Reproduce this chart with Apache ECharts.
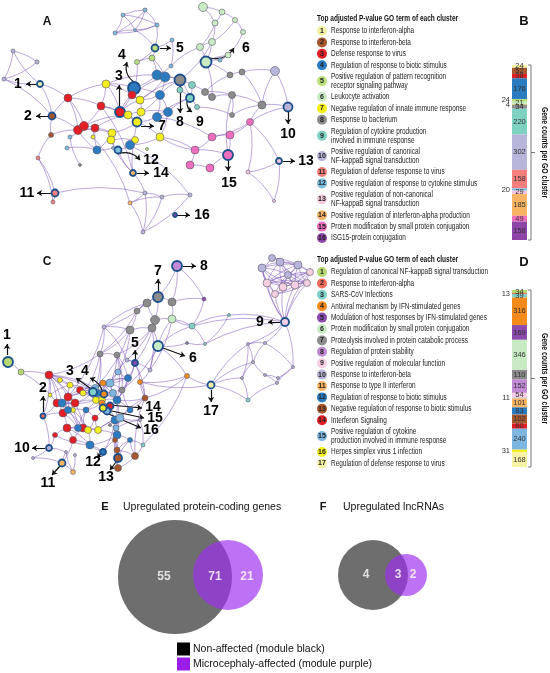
<!DOCTYPE html>
<html lang="en">
<head>
<meta charset="UTF-8">
<title>GO cluster networks</title>
<script src="https://cdn.jsdelivr.net/npm/echarts@6/dist/echarts.min.js"></script>
<style>
  html, body { margin: 0; padding: 0; background: #fff; }
  #main { width: 550px; height: 673px; }
</style>
</head>
<body>
<div id="main"></div>
<script>
// ---- data ----
var termsA = [
  'Response to interferon-alpha',
  'Response to interferon-beta',
  'Defense response to virus',
  'Regulation of response to biotic stimulus',
  'Positive regulation of pattern recognition\nreceptor signaling pathway',
  'Leukocyte activation',
  'Negative regulation of innate immune response',
  'Response to bacterium',
  'Regulation of cytokine production\ninvolved in immune response',
  'Positive regulation of canonical\nNF-kappaB signal transduction',
  'Regulation of defense response to virus',
  'Positive regulation of response to cytokine stimulus',
  'Positive regulation of non-canonical\nNF-kappaB signal transduction',
  'Positive regulation of interferon-alpha production',
  'Protein modification by small protein conjugation',
  'ISG15-protein conjugation'
];
var termsD = [
  'Regulation of canonical NF-kappaB signal transduction',
  'Response to interferon-alpha',
  'SARS-CoV Infections',
  'Antiviral mechanism by IFN-stimulated genes',
  'Modulation of host responses by IFN-stimulated genes',
  'Protein modification by small protein conjugation',
  'Proteolysis involved in protein catabolic process',
  'Regulation of protein stability',
  'Positive regulation of molecular function',
  'Response to interferon-beta',
  'Response to type II interferon',
  'Regulation of response to biotic stimulus',
  'Negative regulation of response to biotic stimulus',
  'Interferon Signaling',
  'Positive regulation of cytokine\nproduction involved in immune response',
  'Herpes simplex virus 1 infection',
  'Regulation of defense response to virus'
];
// gene counts per GO cluster (bars B and D)
var countsB = [24, 52, 38, 176, 24, 21, 4, 34, 220, 302, 158, 20, 29, 185, 49, 158];
var countsD = [34, 13, 39, 316, 169, 346, 110, 152, 54, 11, 101, 83, 102, 60, 240, 31, 168];
var outsideB = [5, 7, 12];      // clusters whose count sits left of the bar
var outsideD = [2, 10, 16];

// network A nodes: [x, y, cluster, size]
var nodesA = [
  [123,15,12,4],[145,10,12,4],[157,25,12,4],[115,33,12,4],[135,30,12,3],
  [155,48,5,6],[137,62,5,5],[152,58,5,6],[171,66,12,4],
  [203,7,6,9],[222,12,6,6],[235,20,6,5],[215,23,6,6],[243,32,6,5],[200,47,6,7],[212,42,6,7],
  [206,62,6,10],[228,55,6,6],[220,60,12,4],
  [157,75,4,10],[165,77,4,10],[134,88,4,11],[160,95,4,9],[168,112,4,9],[157,117,4,9],
  [180,80,8,10],[192,85,9,7],[190,98,9,7],[197,107,9,5],[212,97,8,7],[205,92,8,7],
  [230,75,8,6],[242,72,8,6],[232,95,8,7],[262,105,8,8],[232,115,8,5],[180,90,9,6],
  [275,71,10,9],[288,107,10,8],
  [68,98,3,8],[101,106,3,8],[120,112,3,9],[132,95,3,8],[78,130,3,9],[84,126,3,9],[95,128,3,8],
  [106,84,7,8],[140,100,7,8],[128,115,7,8],[141,112,7,8],[137,122,7,8],[112,133,7,8],
  [111,140,7,8],[160,137,7,8],[135,140,7,7],[93,137,7,4],
  [97,150,4,8],[130,145,4,9],[118,150,12,6],[147,149,5,3],
  [40,84,1,5],[13,51,10,4],[37,62,10,4],[4,79,10,4],
  [52,116,2,6],[51,135,2,5],[70,137,12,4],[67,148,12,4],[80,165,8,3],
  [38,158,11,4],[55,193,11,6],[53,202,11,4],
  [133,173,14,5],[145,193,10,4],[130,203,14,4],[162,197,10,4],[190,195,10,4],[143,232,10,4],
  [175,215,16,3],
  [250,122,15,7],[212,137,15,8],[230,135,15,8],[195,150,15,8],[228,155,15,9],[190,165,15,8],[210,168,15,8],
  [279,161,13,5],[248,172,13,4],[274,201,13,3],
  [172,40,12,4],[113,148,12,3]
];
var edgesA = '0-1 0-2 0-3 1-2 1-3 2-3 0-4 1-4 2-4 3-4 2-5 4-5 5-6 5-7 6-7 7-19 7-20 6-21 8-19 8-14 89-5 89-8 ' +
  '9-10 9-12 10-11 10-12 11-13 12-14 12-15 14-15 15-16 14-16 16-17 16-18 17-18 13-17 11-15 16-29 16-31 15-25 ' +
  '19-20 19-21 20-22 21-22 22-23 22-24 23-24 19-25 20-25 22-25 23-27 24-27 22-47 21-42 21-41 20-47 24-50 23-53 22-49 ' +
  '25-26 25-27 26-27 27-28 26-29 29-30 30-31 31-32 29-33 30-33 33-34 32-34 33-35 35-34 36-25 36-27 28-35 32-37 34-37 37-38 34-38 ' +
  '39-40 39-43 39-44 40-41 40-44 41-42 41-47 41-48 42-47 43-44 44-45 45-51 46-40 46-41 46-42 47-49 48-49 48-50 49-50 50-51 ' +
  '51-52 52-54 54-57 50-53 53-57 57-58 58-52 56-45 56-43 55-45 41-50 44-48 45-48 42-21 46-21 ' +
  '60-61 61-62 62-63 60-63 61-63 60-39 60-64 63-64 64-39 64-43 65-64 65-43 66-45 67-56 68-66 69-70 70-71 69-71 70-73 69-65 ' +
  '72-58 72-73 73-74 73-75 74-75 75-76 73-77 74-77 75-77 76-77 72-54 72-52 ' +
  '79-80 79-81 80-81 80-82 81-83 82-84 84-85 85-83 82-83 79-86 79-87 86-87 86-88 87-88 79-38 79-34 82-53 83-33 ' +
  '57-76 53-82 24-80 40-72 55-74 90-58 90-56 40-50 43-51 39-46 46-19 47-25 49-23 50-57 51-56 42-20';
var labelsA = [
  // [label, node, x1, y1, x2, y2, labelX, labelY, curveness]
  ['1', 60, 37,84, 26,84, 18,84, 0],
  ['2', 64, 48,116, 36,116, 28,116, 0],
  ['3', 41, 119,107, 119,85, 119,76, 0],
  ['4', 21, 134,82, 127,62, 122,55, 0.35],
  ['5', 5, 160,48, 171,48, 180,48, 0],
  ['6', 16, 210,58, 234,48, 246,48, -0.35],
  ['7', 50, 141,126, 154,126, 162,126, 0],
  ['8', 25, 180,86, 180,113, 180,122, 0],
  ['9', 27, 187,101, 192,112, 200,122, -0.3],
  ['10', 38, 288,112, 288,124, 288,134, 0],
  ['11', 70, 51,193, 37,193, 27,193, 0],
  ['12', 58, 118,154, 140,160, 151,160, 0.35],
  ['13', 86, 283,161, 295,161, 306,161, 0],
  ['14', 72, 137,173, 149,173, 161,173, 0],
  ['15', 83, 228,160, 228,171, 229,183, 0],
  ['16', 78, 177,215, 190,215, 202,215, 0]
];

// network C nodes: [x, y, cluster, size]
var nodesC = [
  [8,362,1,9],[21,372,1,6],[177,266,8,9],[158,297,7,9],[147,303,7,8],[172,302,7,8],[155,320,7,9],
  [172,319,6,8],[130,330,7,8],[152,328,7,8],[137,311,7,6],[158,346,6,9],[135,363,5,5],[104,327,10,4],
  [100,354,7,6],[117,355,7,6],[192,326,3,6],[204,299,5,4],[229,315,3,3],[205,344,3,3],[187,343,7,3],
  [187,376,4,5],[211,385,17,6],[248,344,10,3],[265,375,10,3],[242,378,10,3],[253,362,10,3],[248,400,3,4],
  [277,383,10,3],[285,322,9,7],[265,343,10,3],[293,367,10,3],[278,378,10,3],
  [267,283,9,8],[283,287,9,8],[295,285,9,8],[307,283,9,7],[275,294,9,7],[262,268,10,8],[280,262,10,8],
  [298,265,10,8],[310,272,9,7],[288,275,10,7],[272,258,10,7],
  [49,375,14,8],[68,397,14,8],[57,403,14,8],[75,403,14,8],[80,390,14,7],[63,413,14,8],[67,428,14,8],
  [73,440,14,7],[83,428,14,8],[70,385,16,6],[83,393,16,6],[96,400,16,7],[102,400,16,7],[73,410,16,5],
  [88,430,16,7],[98,430,16,7],[62,403,12,8],[68,410,12,7],[97,393,12,8],[117,400,12,8],[113,393,15,7],
  [115,420,12,8],[117,435,12,8],[90,445,12,8],[78,428,12,7],[95,388,15,7],[110,383,15,8],[120,418,15,8],
  [116,428,15,6],[103,383,4,6],[102,403,4,6],[145,398,13,6],[117,450,13,6],[135,456,13,7],[118,468,13,7],
  [115,440,13,5],[43,416,2,4],[50,395,16,4],[49,448,10,5],[62,463,11,6],[73,472,11,5],[33,458,10,3],
  [66,452,10,3],[103,452,12,5],[118,458,13,7],[110,406,14,6],[107,411,15,6],[103,408,16,6],[93,392,3,7],
  [104,394,4,6],[128,378,12,7],[118,372,15,6],[127,360,10,4],[150,370,10,4],[140,420,10,3],[130,440,12,5],
  [143,445,3,4],[86,410,12,6],[95,418,14,6],[110,425,7,3],[75,455,10,3],[55,435,14,5],[60,380,16,5],
  [130,410,12,6],[122,390,7,6],[140,382,4,5]
];
var edgesC = '44-45 44-46 44-53 44-60 44-69 44-62 44-80 44-81 45-47 45-48 45-53 45-54 45-60 45-61 45-62 46-47 46-49 46-60 ' +
  '46-80 47-49 47-52 47-55 47-57 48-54 48-62 48-69 49-50 49-61 49-68 50-51 50-52 50-58 50-67 51-52 51-67 51-83 52-58 52-59 ' +
  '52-101 53-54 53-106 54-55 54-69 55-56 55-62 55-101 56-63 56-64 56-74 57-61 57-68 58-59 58-67 59-65 59-66 59-102 60-61 ' +
  '61-68 62-63 62-69 63-64 63-65 63-70 63-107 64-70 64-73 65-66 65-71 66-67 66-79 66-99 67-87 68-101 69-70 69-92 70-73 70-95 ' +
  '71-72 71-107 72-103 73-93 74-89 74-90 75-63 75-107 75-109 76-77 76-79 77-78 77-99 78-88 79-88 80-49 80-82 81-53 82-85 ' +
  '82-86 83-84 83-86 84-86 85-83 87-67 87-79 89-90 90-91 91-55 92-55 92-62 93-64 94-70 94-95 94-108 95-96 96-97 97-109 ' +
  '98-71 98-100 99-100 100-77 101-102 102-58 103-65 104-84 105-50 105-82 106-44 107-108 108-63 109-75 ' +
  '44-47 45-49 46-52 47-60 48-55 53-62 54-64 55-60 56-65 57-58 59-71 61-101 62-70 63-66 64-108 65-87 66-76 67-105 ' +
  '69-94 70-108 71-75 72-98 73-94 74-101 76-99 77-75 78-79 88-99 91-102 92-47 93-70 94-63 95-62 ' +
  '1-44 0-1 1-46 14-62 15-70 12-94 12-63 13-14 13-8 14-15 15-108 96-12 97-11 8-9 9-6 6-4 4-3 3-5 5-7 6-7 3-6 10-4 ' +
  '10-8 10-3 9-11 11-7 11-16 16-7 2-17 17-16 2-3 2-5 16-18 18-19 16-19 19-20 20-11 11-21 21-75 22-21 22-27 22-25 22-23 ' +
  '22-26 22-109 23-26 23-30 23-25 24-26 24-28 24-32 25-26 25-27 26-30 27-28 28-31 28-32 29-30 29-31 29-23 30-31 31-32 ' +
  '18-29 19-29 16-29 29-33 29-34 29-35 29-36 29-37 29-38 29-41 ' +
  '33-34 33-35 33-36 33-37 33-38 33-39 33-40 33-41 33-42 34-35 34-36 34-37 34-38 34-39 34-40 34-41 34-42 35-36 35-37 35-38 ' +
  '35-39 35-40 35-41 35-42 36-37 36-39 36-40 36-41 36-42 37-38 37-42 38-39 38-40 38-42 39-40 39-41 39-42 40-41 40-42 41-42 ' +
  '43-38 43-39 43-40 14-54 15-63 8-95 12-109 13-4 9-97 6-96 21-109 21-100 7-97 11-108 5-17 14-44 13-45 8-69 ' +
  '14-69 15-94 12-75 8-14 13-96 6-12 9-15 4-13 10-14 7-16';
var labelsC = [
  ['1', 0, 7,355, 7,344, 7,335, 0],
  ['2', 80, 43,412, 43,396, 43,388, 0],
  ['3', 92, 94,391, 76,378, 70,371, 0],
  ['4', 93, 103,393, 90,378, 85,371, -0.25],
  ['5', 12, 135,360, 135,350, 135,343, 0],
  ['6', 11, 163,348, 185,356, 193,358, 0],
  ['7', 3, 158,292, 158,279, 158,271, 0],
  ['8', 2, 183,266, 196,266, 204,266, 0],
  ['9', 29, 280,322, 268,322, 260,322, 0],
  ['10', 82, 45,448, 32,448, 22,448, 0],
  ['11', 83, 60,466, 52,475, 48,483, 0],
  ['12', 87, 103,451, 97,458, 93,462, 0],
  ['13', 88, 116,462, 110,470, 106,477, 0],
  ['14', 89, 110,405, 142,408, 153,407, 0],
  ['15', 90, 107,410, 144,418, 155,418, 0],
  ['16', 91, 104,412, 141,428, 151,430, 0],
  ['17', 22, 211,390, 211,402, 211,411, 0]
];

// Venn diagrams
var vennE = [55, 71, 21];
var vennF = [4, 3, 2];
var vennLegend = ['Non-affected (module black)', 'Microcephaly-affected (module purple)'];

// ---- styling ----
var colorsA = ['#f2f0a2','#a8562c','#e31e24','#2b7bc0','#b9e07c','#c9ebc4','#f4ee1f','#8c8c8c',
  '#7fd1c2','#b8b5da','#f47f7c','#7dbde0','#f5c9dd','#f8b363','#ef6dbd','#8e45a8'];
var colorsD = ['#b5d96f','#f26b5b','#7fd1c8','#f28a1c','#8b4aad','#c9ebc4','#8c8c8c','#c08ad4',
  '#f6cfe2','#b8b5da','#f8b363','#2b7bc0','#a8562c','#e31e24','#7db7e1','#f4ee1f','#f7f3a6'];
var FONT = 'Liberation Sans, Arial, sans-serif';
var SQUEEZE = 0.77;   // the legend text is set in a condensed face

function parseEdges(s) {
  return s.trim().split(/\s+/).map(function (p) {
    var a = p.split('-');
    return { source: +a[0], target: +a[1] };
  });
}

function graphSeries(nodes, edges, labels, colors, gi) {
  var marked = labels.map(function (l) { return l[1]; });
  return {
    type: 'graph', layout: 'none', coordinateSystem: 'cartesian2d',
    xAxisIndex: gi, yAxisIndex: gi, silent: true,
    data: nodes.map(function (n, i) {
      var isLab = marked.indexOf(i) >= 0;
      return {
        value: [n[0], n[1]], symbolSize: n[3] + (isLab ? 1 : 0),
        itemStyle: {
          color: colors[n[2] - 1],
          borderColor: isLab ? '#1d4f8c' : '#5a5a6a',
          borderWidth: isLab ? 1.8 : 0.6
        }
      };
    }),
    links: parseEdges(edges),
    lineStyle: { color: '#6a3cb0', opacity: 0.45, width: 1, curveness: 0.12 },
    label: { show: false }
  };
}

function arrowSeries(labels, gi) {
  return [{
    type: 'lines', coordinateSystem: 'cartesian2d', xAxisIndex: gi, yAxisIndex: gi,
    silent: true, symbol: ['none', 'arrow'], symbolSize: 5,
    data: labels.map(function (l) {
      return { coords: [[l[2], l[3]], [l[4], l[5]]], lineStyle: { curveness: l[8] } };
    }),
    lineStyle: { color: '#111', width: 1.2, opacity: 1 }
  }, {
    // cluster numbers, drawn as plain text marks at the arrow tips
    type: 'custom', coordinateSystem: 'cartesian2d', xAxisIndex: gi, yAxisIndex: gi, silent: true,
    data: labels.map(function (l) { return [l[6], l[7], l[0]]; }),
    renderItem: function (params, api) {
      var p = api.coord([api.value(0), api.value(1)]);
      return {
        type: 'text', x: p[0], y: p[1],
        style: {
          text: labels[params.dataIndex][0], fill: '#000', fontSize: 14, fontWeight: 'bold',
          fontFamily: FONT, align: 'center', verticalAlign: 'middle'
        }
      };
    }
  }];
}

function barSeries(counts, colors, outside, gi, stack) {
  return counts.map(function (v, i) {
    var out = outside.indexOf(i + 1) >= 0;
    return {
      type: 'bar', stack: stack, xAxisIndex: gi, yAxisIndex: gi, silent: true,
      barWidth: '100%', data: [v],
      itemStyle: { color: colors[i] },
      label: {
        show: true, position: out ? 'left' : 'inside', distance: 2,
        fontSize: 7.5, color: '#333', fontFamily: FONT,
        textBorderWidth: 0
      }
    };
  });
}

function sum(a) { return a.reduce(function (s, v) { return s + v; }, 0); }

function legendGraphics(title, terms, colors, y0) {
  var g = [];
  g.push({ type: 'text', x: 317, y: y0 - 12, scaleX: 0.76, style: {
    text: title, fontSize: 8.6, fontWeight: 'bold', fontFamily: FONT, fill: '#111',
    align: 'left', verticalAlign: 'middle' } });
  var y = y0;
  terms.forEach(function (t, i) {
    var lines = t.split('\n').length;
    var cy = y + (lines - 1) * 4.5;
    g.push({ type: 'circle', shape: { cx: 322, cy: cy, r: 5 }, style: { fill: colors[i] } });
    g.push({ type: 'text', x: 322, y: cy, style: {
      text: String(i + 1), fontSize: 7, fontWeight: 'bold', fill: '#222', fontFamily: FONT,
      align: 'center', verticalAlign: 'middle' } });
    g.push({ type: 'text', x: 331, y: y - 4.5, scaleX: SQUEEZE, style: {
      text: t, fontSize: 8.4, lineHeight: 9, fill: '#222', fontFamily: FONT,
      align: 'left', verticalAlign: 'top' } });
    y += 11.4 + (lines - 1) * 9;
  });
  return g;
}

function bracket(top, bottom) {
  var mid = (top + bottom) / 2;
  return [
    { type: 'polyline', shape: { points: [[528, top], [531, top], [531, bottom], [528, bottom]] },
      style: { stroke: '#555', lineWidth: 0.8, fill: null } },
    { type: 'line', shape: { x1: 531, y1: mid, x2: 535, y2: mid }, style: { stroke: '#555', lineWidth: 0.8 } },
    { type: 'text', x: 544, y: mid, rotation: -Math.PI / 2, scaleX: 0.78, style: {
      text: 'Gene counts per GO cluster', fontSize: 8.8, fontWeight: 'bold', fill: '#111',
      fontFamily: FONT, align: 'center', verticalAlign: 'middle' } }
  ];
}

var graphics = []
  .concat(legendGraphics('Top adjusted P-value GO term of each cluster', termsA, colorsA, 31))
  .concat(legendGraphics('Top adjusted P-value GO term of each cluster', termsD, colorsD, 272))
  .concat(bracket(65, 240))
  .concat(bracket(290, 467));

[['A', 47, 22, 12], ['C', 47, 262, 12], ['B', 524, 21, 13], ['D', 524, 262, 13]].forEach(function (p) {
  graphics.push({ type: 'text', x: p[1], y: p[2], style: {
    text: p[0], fontSize: p[3], fontWeight: 'bold', fill: '#111', fontFamily: FONT,
    align: 'center', verticalAlign: 'middle' } });
});
graphics.push({ type: 'text', x: 105, y: 507, style: { text: 'E', fontSize: 11, fontWeight: 'bold', fill: '#111', fontFamily: FONT, verticalAlign: 'middle', align: 'center' } });
graphics.push({ type: 'text', x: 123, y: 507, style: { text: 'Upregulated protein-coding genes', fontSize: 10.5, fill: '#111', fontFamily: FONT, verticalAlign: 'middle' } });
graphics.push({ type: 'text', x: 323, y: 507, style: { text: 'F', fontSize: 11, fontWeight: 'bold', fill: '#111', fontFamily: FONT, verticalAlign: 'middle', align: 'center' } });
graphics.push({ type: 'text', x: 343, y: 507, style: { text: 'Upregulated lncRNAs', fontSize: 10.5, fill: '#111', fontFamily: FONT, verticalAlign: 'middle' } });
[['#000000', 649], ['#9a1de8', 664]].forEach(function (r, i) {
  graphics.push({ type: 'rect', shape: { x: 177, y: r[1] - 6.5, width: 13, height: 13 }, style: { fill: r[0] } });
  graphics.push({ type: 'text', x: 193, y: r[1], style: { text: vennLegend[i], fontSize: 10.5, fill: '#111', fontFamily: FONT, verticalAlign: 'middle' } });
});

// venn circles (grey: non-affected, purple: microcephaly-affected)
var GREY = '#6e6e6e', PURPLE = '#9d2ff0';
var vennCircles = [
  { value: [175, 577], symbolSize: 114, itemStyle: { color: GREY, opacity: 1 } },
  { value: [228, 575], symbolSize: 70, itemStyle: { color: PURPLE, opacity: 0.68 } },
  { value: [373, 575], symbolSize: 70, itemStyle: { color: GREY, opacity: 1 } },
  { value: [406, 575], symbolSize: 42, itemStyle: { color: PURPLE, opacity: 0.68 } }
];
var vennText = [
  [164, 577, vennE[0]], [215, 577, vennE[1]], [247, 577, vennE[2]],
  [366, 575, vennF[0]], [398, 575, vennF[1]], [413, 575, vennF[2]]
];

function hidden(type, gi, min, max, inverse, extra) {
  var a = { type: type, gridIndex: gi, show: false, min: min, max: max, inverse: !!inverse };
  return Object.assign(a, extra || {});
}

var myChart = echarts.init(document.getElementById('main'));
myChart.setOption({
  animation: false,
  backgroundColor: '#fff',
  grid: [
    { left: 0, top: 0, width: 310, height: 255 },
    { left: 0, top: 255, width: 310, height: 240 },
    { left: 512, top: 65, width: 15, height: 175 },
    { left: 512, top: 290, width: 15, height: 177 },
    { left: 0, top: 495, width: 550, height: 178 }
  ],
  xAxis: [
    hidden('value', 0, 0, 310),
    hidden('value', 1, 0, 310),
    { type: 'category', gridIndex: 2, data: ['B'], show: false },
    { type: 'category', gridIndex: 3, data: ['D'], show: false },
    hidden('value', 4, 0, 550)
  ],
  yAxis: [
    hidden('value', 0, 0, 255, true),
    hidden('value', 1, 255, 495, true),
    hidden('value', 2, 0, sum(countsB), true),
    hidden('value', 3, 0, sum(countsD), true),
    hidden('value', 4, 495, 673, true)
  ],
  graphic: graphics,
  series: [].concat(
    [graphSeries(nodesA, edgesA, labelsA, colorsA, 0)],
    arrowSeries(labelsA, 0),
    [graphSeries(nodesC, edgesC, labelsC, colorsD, 1)],
    arrowSeries(labelsC, 1),
    barSeries(countsB, colorsA, outsideB, 2, 'b'),
    barSeries(countsD, colorsD, outsideD, 3, 'd'),
    [{
      type: 'scatter', xAxisIndex: 4, yAxisIndex: 4, silent: true, data: vennCircles
    }, {
      type: 'scatter', xAxisIndex: 4, yAxisIndex: 4, silent: true, symbolSize: 1,
      itemStyle: { color: 'rgba(0,0,0,0)' },
      data: vennText.map(function (t) { return { value: [t[0], t[1]], name: String(t[2]) }; }),
      label: { show: true, position: 'inside', formatter: '{b}', fontSize: 12, fontWeight: 'bold',
        color: '#fff', fontFamily: FONT, textBorderWidth: 0 }
    }]
  )
});
</script>
</body>
</html>
